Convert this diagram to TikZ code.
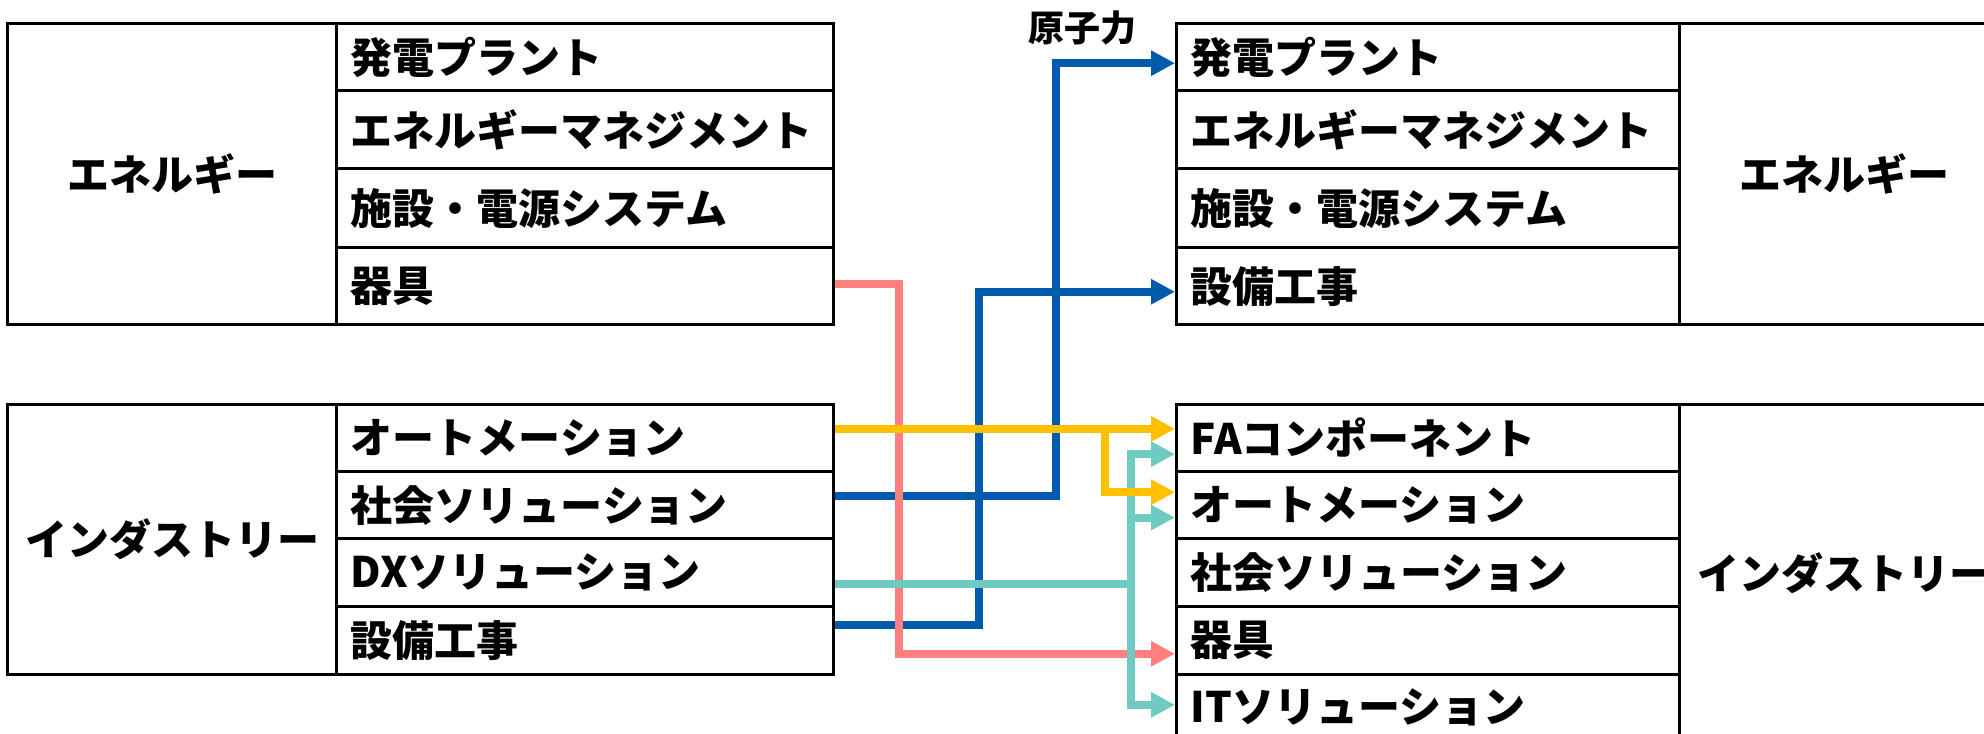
\documentclass[tikz,border=0pt]{standalone}
\usepackage{fontspec}
\setmainfont{Noto Sans CJK JP}
\usetikzlibrary{arrows.meta,calc}
\definecolor{cblue}{RGB}{0,91,172}
\definecolor{cyellow}{RGB}{255,192,0}
\definecolor{cpink}{RGB}{255,127,127}
\definecolor{cteal}{RGB}{111,203,194}
\begin{document}
\begin{tikzpicture}[x=0.5pt,y=-0.5pt,
  cell/.style={draw=black, line width=1.5pt, anchor=north west, inner ysep=0pt,
    font=\bfseries\fontsize{21pt}{25pt}\selectfont},
  subL/.style={cell, align=left, inner xsep=7pt, text width=234.1pt},
  subR/.style={cell, align=left, inner xsep=7pt, text width=237.5pt},
  head/.style={cell, align=center, inner xsep=0pt},
  conn/.style={line width=4pt, -{Triangle[length=12pt,width=12pt]}},
  seg/.style={line width=4pt},
  lbl/.style={font=\bfseries\fontsize{18pt}{20pt}\selectfont, inner sep=0pt}
]
\useasboundingbox (0,0) rectangle (1984,733);
\clip (0,0) rectangle (1984,733);

% left top table
\node[head, text width=164.65pt, minimum height=150.8pt] (L1h) at (6,21.7) {エネルギー};
\node[subL, minimum height=33.8pt] (L1a) at (335.3,21.7) {発電プラント};
\node[subL, minimum height=39pt] (L1b) at (335.3,89.3) {エネルギーマネジメント};
\node[subL, minimum height=39.35pt] (L1c) at (335.3,167.3) {施設・電源システム};
\node[subL, minimum height=38.65pt] (L1d) at (335.3,246) {器具};

% left bottom table
\node[head, text width=164.65pt, minimum height=135pt] (L2h) at (6,402.7) {インダストリー};
\node[subL, minimum height=33.65pt] (L2a) at (335.3,402.7) {オートメーション};
\node[subL, minimum height=33.65pt] (L2b) at (335.3,470) {社会ソリューション};
\node[subL, minimum height=33.85pt] (L2c) at (335.3,537.3) {DXソリューション};
\node[subL, minimum height=33.85pt] (L2d) at (335.3,605) {設備工事};

% right top table
\node[subR, minimum height=33.8pt] (R1a) at (1175,21.7) {発電プラント};
\node[subR, minimum height=39pt] (R1b) at (1175,89.3) {エネルギーマネジメント};
\node[subR, minimum height=39.35pt] (R1c) at (1175,167.3) {施設・電源システム};
\node[subR, minimum height=38.65pt] (R1d) at (1175,246) {設備工事};
\node[head, text width=164.5pt, minimum height=150.8pt] (R1h) at (1678,21.7) {エネルギー};

% right bottom table
\node[subR, minimum height=33.65pt] (R2a) at (1175,402.7) {FAコンポーネント};
\node[subR, minimum height=33.65pt] (R2b) at (1175,470) {オートメーション};
\node[subR, minimum height=33.85pt] (R2c) at (1175,537.3) {社会ソリューション};
\node[subR, minimum height=33.85pt] (R2d) at (1175,605) {器具};
\node[subR, minimum height=33.65pt] (R2e) at (1175,672.7) {ITソリューション};
\node[head, text width=164.5pt, minimum height=168.65pt] (R2h) at (1678,402.7) {インダストリー};

% connectors
\draw[conn, cblue] ($(L2b.east)+(0,-9.65)$) -- ++(221.5,0) |- ($(R1a.west)+(0,6.2)$);
\draw[conn, cblue] ($(L2d.east)+(0,-15.5)$) -- ++(144.2,0) |- ($(R1d.west)+(0,5.6)$);
\draw[conn, cpink] ($(L1d.east)+(0,-2)$) -- ++(64.2,0) |- ($(R2d.west)+(0,13.45)$);
\draw[seg, cteal] ($(L2c.east)+(0,11.55)$) -- ++(296.8,0) coordinate (tj);
\draw[conn, cteal] (tj) |- ($(R2a.west)+(0,16.3)$);
\draw[conn, cteal] (tj) |- ($(R2b.west)+(0,12.4)$);
\draw[conn, cteal] (tj) |- ($(R2e.west)+(0,-3)$);
\draw[conn, cyellow] ($(L2a.east)+(0,-9)$) -- ($(R2a.west)+(0,-9)$);
\draw[conn, cyellow] ($(L2a.east)+(270.5,-9)$) |- ($(R2b.west)+(0,-12.95)$);

\node[lbl] (nuc) at (1082,28) {原子力};
\end{tikzpicture}
\end{document}
